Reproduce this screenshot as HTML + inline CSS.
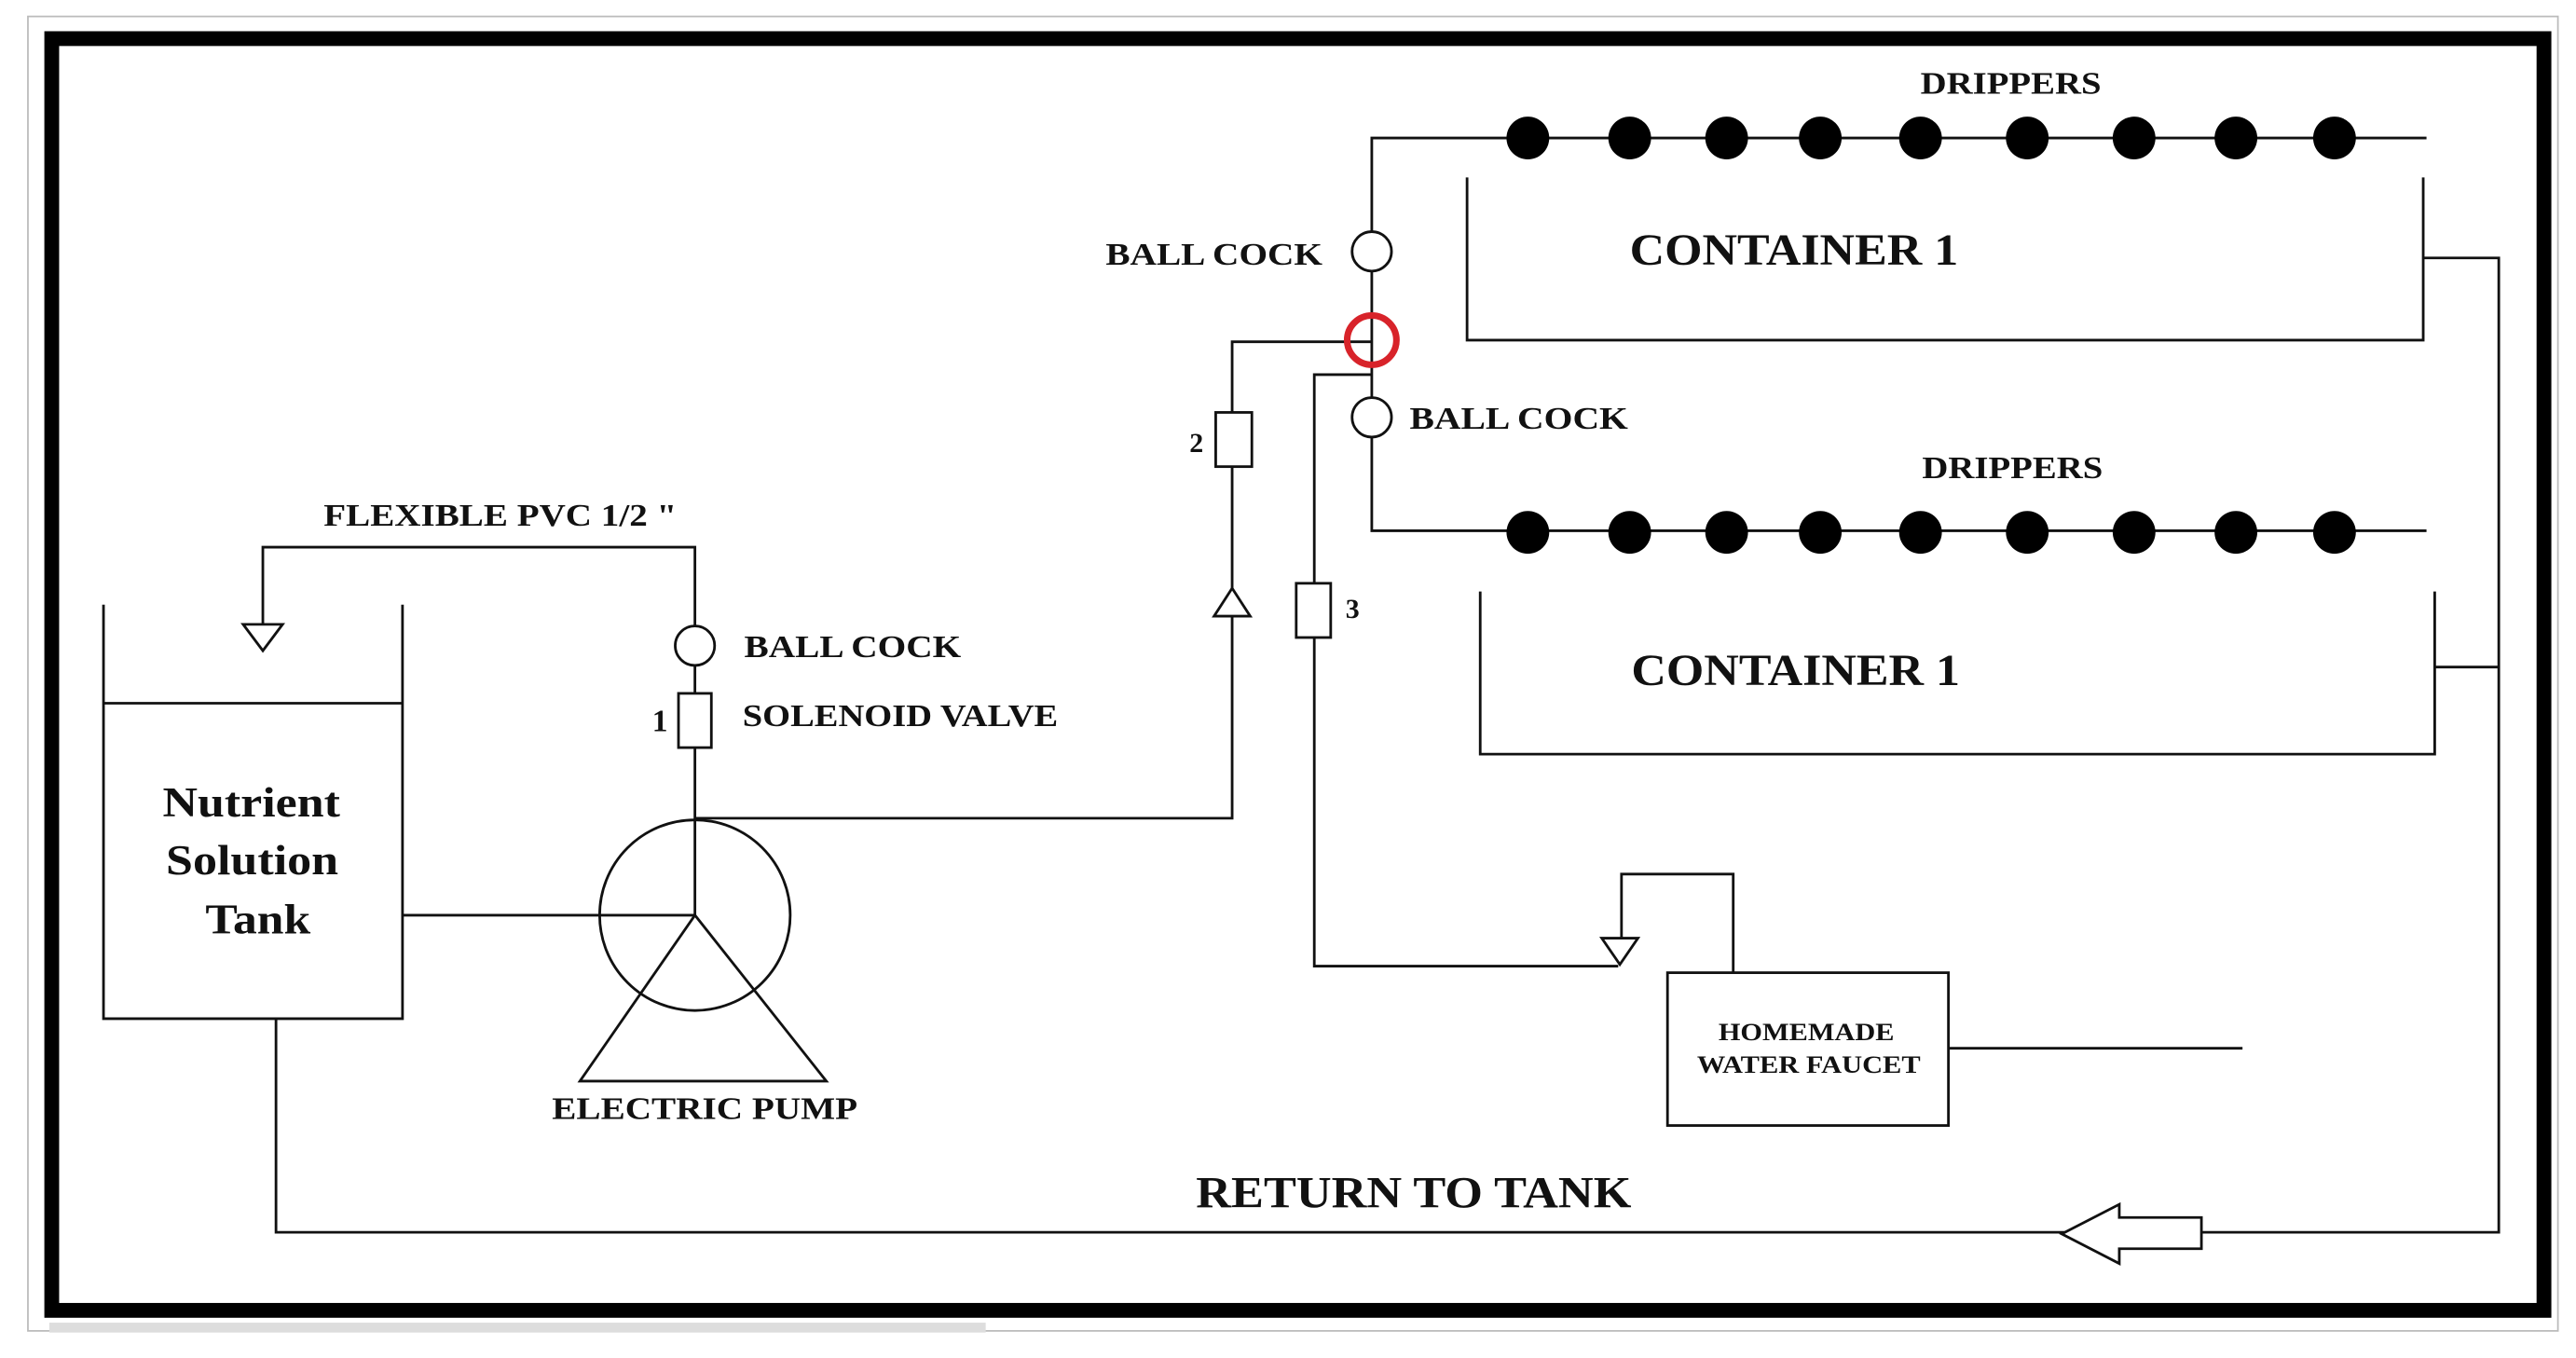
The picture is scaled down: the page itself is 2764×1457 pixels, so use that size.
<!DOCTYPE html>
<html><head><meta charset="utf-8"><style>
html,body{margin:0;padding:0;background:#fff;}
svg{display:block;}
text{font-family:"Liberation Serif",serif;font-weight:bold;fill:#111;}
</style></head><body>
<svg width="2764" height="1457" viewBox="0 0 1568 826.5" preserveAspectRatio="none" xmlns="http://www.w3.org/2000/svg">
<rect x="17" y="10" width="1540" height="800" fill="#fff" stroke="#bbb" stroke-width="1"/>
<rect x="30" y="805" width="570" height="6" fill="#ddd"/>
<rect x="31.5" y="23.5" width="1517" height="774" fill="#fff" stroke="#000" stroke-width="9"/>
<g fill="none" stroke="#111" stroke-width="1.6">
<polyline points="63,368 63,620 245,620 245,368"/>
<line x1="63" y1="428" x2="245" y2="428"/>
<polyline points="168,620 168,750 1521,750 1521,157 1475,157"/>
<line x1="1482" y1="406" x2="1521" y2="406"/>
<polygon points="1255,751 1290,733 1290,741 1340,741 1340,760 1290,760 1290,769" fill="#fff"/>
<line x1="245" y1="557" x2="423" y2="557"/>
<circle cx="423" cy="557" r="58"/>
<polygon points="423,557 353,658 503,658"/>
<polyline points="423,557 423,333 160,333 160,380"/>
<polygon points="148,380 172,380 160,396" fill="#fff"/>
<circle cx="423" cy="393" r="12" fill="#fff"/>
<rect x="413" y="422" width="20" height="33" fill="#fff"/>
<polyline points="423,498 750,498 750,208 835,208"/>
<rect x="740" y="251" width="22" height="33" fill="#fff"/>
<polygon points="739,375 761,375 750,358" fill="#fff"/>
<polyline points="1477,84 835,84 835,323 1477,323"/>
<circle cx="835" cy="153" r="12" fill="#fff"/>
<circle cx="835" cy="254" r="12" fill="#fff"/>
<polyline points="835,228 800,228 800,588 985,588"/>
<rect x="789" y="355" width="21" height="33" fill="#fff"/>
<polygon points="975,571 997,571 986,587" fill="#fff"/>
<polyline points="987,571 987,532 1055,532 1055,592"/>
<rect x="1015" y="592" width="171" height="93"/>
<line x1="1186" y1="638" x2="1365" y2="638"/>
<polyline points="893,108 893,207 1475,207 1475,108"/>
<polyline points="901,360 901,459 1482,459 1482,360"/>
</g>
<circle cx="835" cy="207" r="15" fill="none" stroke="#d8232a" stroke-width="4"/>
<g fill="#000">
<circle cx="930" cy="84" r="13"/><circle cx="992" cy="84" r="13"/><circle cx="1051" cy="84" r="13"/><circle cx="1108" cy="84" r="13"/><circle cx="1169" cy="84" r="13"/><circle cx="1234" cy="84" r="13"/><circle cx="1299" cy="84" r="13"/><circle cx="1361" cy="84" r="13"/><circle cx="1421" cy="84" r="13"/>
<circle cx="930" cy="324" r="13"/><circle cx="992" cy="324" r="13"/><circle cx="1051" cy="324" r="13"/><circle cx="1108" cy="324" r="13"/><circle cx="1169" cy="324" r="13"/><circle cx="1234" cy="324" r="13"/><circle cx="1299" cy="324" r="13"/><circle cx="1361" cy="324" r="13"/><circle cx="1421" cy="324" r="13"/>
</g>
<text x="99" y="497" font-size="26" textLength="108" lengthAdjust="spacingAndGlyphs">Nutrient</text>
<text x="101" y="532" font-size="26" textLength="105" lengthAdjust="spacingAndGlyphs">Solution</text>
<text x="125" y="568" font-size="26" textLength="64" lengthAdjust="spacingAndGlyphs">Tank</text>
<text x="197" y="320" font-size="19" textLength="215" lengthAdjust="spacingAndGlyphs">FLEXIBLE PVC 1/2 "</text>
<text x="453" y="400" font-size="19" textLength="132" lengthAdjust="spacingAndGlyphs">BALL COCK</text>
<text x="452" y="442" font-size="19" textLength="192" lengthAdjust="spacingAndGlyphs">SOLENOID VALVE</text>
<text x="397" y="445" font-size="19">1</text>
<text x="336" y="681" font-size="19" textLength="186" lengthAdjust="spacingAndGlyphs">ELECTRIC PUMP</text>
<text x="724" y="275" font-size="17">2</text>
<text x="819" y="376" font-size="17">3</text>
<text x="673" y="161" font-size="19" textLength="132" lengthAdjust="spacingAndGlyphs">BALL COCK</text>
<text x="858" y="261" font-size="19" textLength="133" lengthAdjust="spacingAndGlyphs">BALL COCK</text>
<text x="1169" y="57" font-size="19" textLength="110" lengthAdjust="spacingAndGlyphs">DRIPPERS</text>
<text x="1170" y="291" font-size="19" textLength="110" lengthAdjust="spacingAndGlyphs">DRIPPERS</text>
<text x="992" y="161" font-size="27" textLength="200" lengthAdjust="spacingAndGlyphs">CONTAINER 1</text>
<text x="993" y="417" font-size="27" textLength="200" lengthAdjust="spacingAndGlyphs">CONTAINER 1</text>
<text x="1046" y="633" font-size="15" textLength="107" lengthAdjust="spacingAndGlyphs">HOMEMADE</text>
<text x="1033" y="653" font-size="15" textLength="136" lengthAdjust="spacingAndGlyphs">WATER FAUCET</text>
<text x="728" y="735" font-size="27" textLength="265" lengthAdjust="spacingAndGlyphs">RETURN TO TANK</text>
</svg>
</body></html>
